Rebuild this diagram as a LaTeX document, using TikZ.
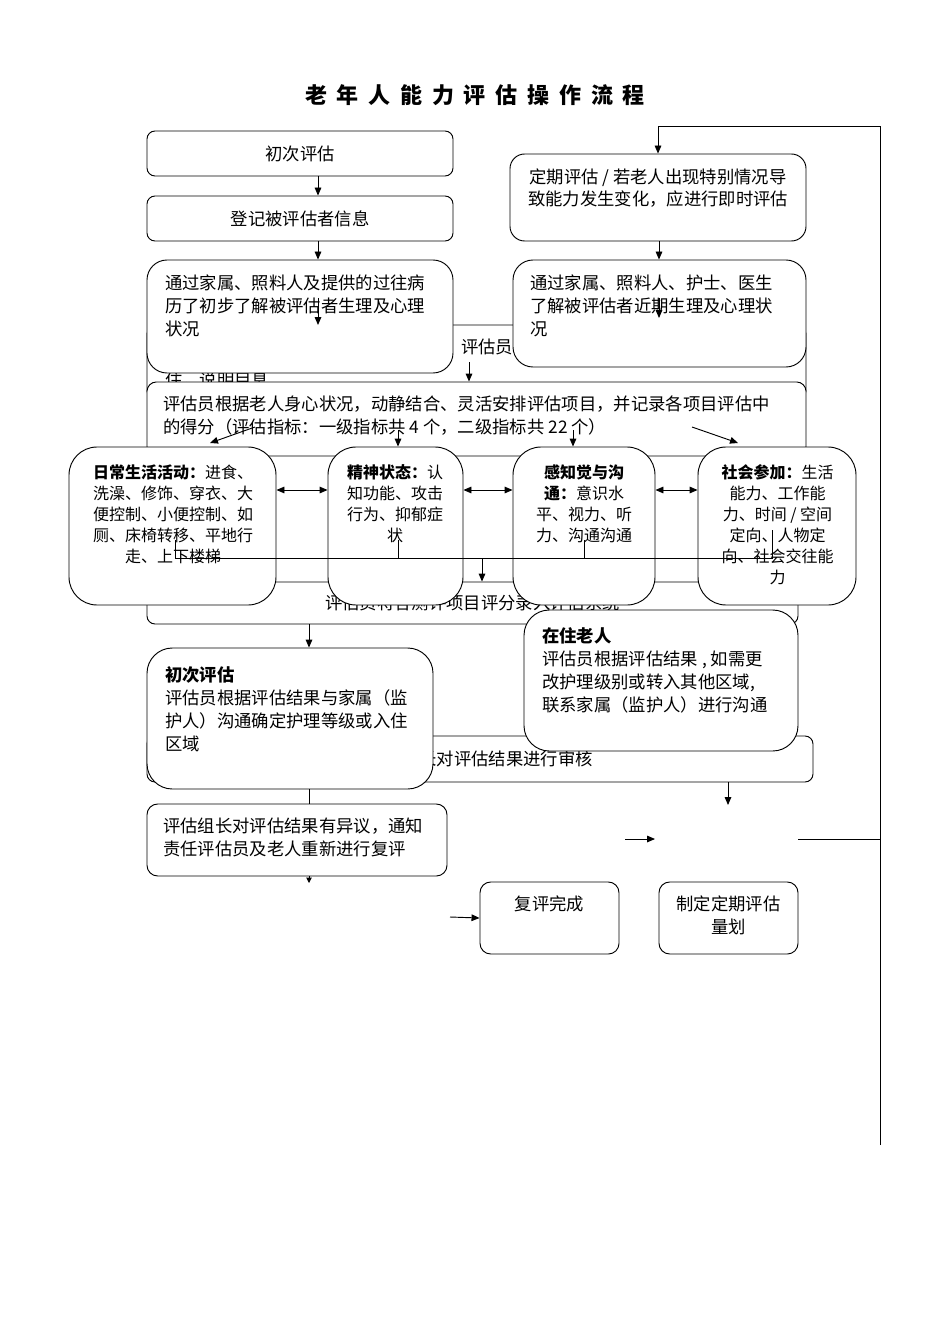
\documentclass[tikz,border=0pt]{standalone}
\usepackage{fontspec}
\setmainfont{Noto Sans CJK SC}
\usetikzlibrary{arrows.meta}
\tikzset{
  box/.style={draw, line width=0.7pt, fill=white, rounded corners=#1, inner sep=0pt},
  box/.default=6pt,
  txt/.style={inner sep=0pt, font=\fontsize{13pt}{17.25pt}\selectfont},
  small/.style={inner sep=0pt, align=center, font=\fontsize{12pt}{15.75pt}\selectfont},
  line/.style={line width=0.7pt},
  arr/.style={line width=0.7pt, -{Triangle[length=6pt,width=5pt]}},
  darr/.style={line width=0.7pt, {Triangle[length=6pt,width=5pt]}-{Triangle[length=6pt,width=5pt]}}
}
\begin{document}
\begin{tikzpicture}[x=0.75pt,y=-0.75pt]
\useasboundingbox (0,0) rectangle (950,1344);
\node[inner sep=0pt, font=\bfseries\fontsize{16.5pt}{20pt}\selectfont] (title) at (475,95)
{\makebox[255pt][s]{老\hfil 年\hfil 人\hfil 能\hfil 力\hfil 评\hfil 估\hfil 操\hfil 作\hfil 流\hfil 程}};
\coordinate (x318) at (318,0);
\coordinate (x659) at (659,0);
\coordinate (x309) at (309,0);
\coordinate (y490) at (0,490);
% top part
\node[box, txt, minimum width=229.5pt, minimum height=33.75pt] (A) at (300,153.5) {初次评估};
\node[box, txt, minimum width=229.5pt, minimum height=33.75pt] (B) at (300,218.5) {登记被评估者信息};
\node[box=11pt, minimum width=222pt, minimum height=65.25pt] (D) at (658,197.5) {};
\node[txt, align=center, anchor=north, font=\fontsize{13pt}{16.5pt}\selectfont] (Dt) at (658,169)
{定期评估 / 若老人出现特别情况导\\致能力发生变化，应进行即时评估};
\coordinate (loopB) at (880,1145);
\coordinate (loopT) at (880,126);
\draw[arr] (loopB) -- (loopT) -| (D.north);
\node[box=7pt, minimum width=494.25pt, minimum height=56.25pt] (F) at (476.5,362.5) {};
\node[txt] (Ft) at (487,347) {评估员};
\node[txt, anchor=west] (Ft2) at (165,380) {住，说明目息};
\node[box=15pt, minimum width=229.5pt, minimum height=84.75pt] (C) at (300,316.5) {};
\node[txt, align=left, anchor=north west] (Ct) at (165,275)
{通过家属、照料人及提供的过往病\\历了初步了解被评估者生理及心理\\状况};
\node[box=15pt, minimum width=219.75pt, minimum height=80.25pt] (E) at (659.5,313.5) {};
\node[txt, align=left, anchor=north west] (Et) at (530,275)
{通过家属、照料人、护士、医生\\了解被评估者近期生理及心理状\\况};
\draw[arr] (A.south -| x318) -- (B.north -| x318);
\draw[arr] (B.south -| x318) -- (C.north -| x318);
\draw[arr] (D.south -| x659) -- (E.north -| x659);
\coordinate (ci1) at (318,298);
\coordinate (ci2) at (318,325);
\coordinate (ei1) at (659,298);
\coordinate (ei2) at (659,318);
\draw[arr] (ci1) -- (ci2);
\draw[arr] (ei1) -- (ei2);
\node[box=7pt, minimum width=494.25pt, minimum height=55.5pt] (G) at (476.5,419) {};
\node[txt, align=left, anchor=north west] (Gt) at (163,396)
{评估员根据老人身心状况，动静结合、灵活安排评估项目，并记录各项目评估中\\的得分（评估指标：一级指标共 4 个，二级指标共 22 个）};
\coordinate (fg) at (469,362);
\draw[arr] (fg) -- (G.north -| fg);
% four items
\node[box, txt, minimum width=488.25pt, minimum height=31.5pt] (H) at (472.5,603) {评估员将各测评项目评分录入评估系统};
\node[box=21pt, minimum width=155.25pt, minimum height=118.5pt] (b1) at (172.5,526) {};
\node[box=21pt, minimum width=101.25pt, minimum height=118.5pt] (b2) at (395.5,526) {};
\node[box=21pt, minimum width=106.5pt, minimum height=118.5pt] (b3) at (584,526) {};
\node[box=21pt, minimum width=118.5pt, minimum height=118.5pt] (b4) at (777,526) {};
\node[small, anchor=north] (b1t) at (173,464.5)
{\textbf{日常生活活动：}进食、\\洗澡、修饰、穿衣、大\\便控制、小便控制、如\\厕、床椅转移、平地行\\走、上下楼梯};
\node[small, anchor=north] (b2t) at (395,464.5)
{\textbf{精神状态：}认\\知功能、攻击\\行为、抑郁症\\状};
\node[small, anchor=north] (b3t) at (584,464.5)
{\textbf{感知觉与沟}\\\textbf{通：}意识水\\平、视力、听\\力、沟通沟通};
\node[small, anchor=north] (b4t) at (777.5,464.5)
{\textbf{社会参加：}生活\\能力、工作能\\力、时间 / 空间\\定向、人物定\\向、社会交往能\\力};
\draw[darr] (b1.east |- y490) -- (b2.west |- y490);
\draw[darr] (b2.east |- y490) -- (b3.west |- y490);
\draw[darr] (b3.east |- y490) -- (b4.west |- y490);
\coordinate (d1) at (255,427);
\coordinate (d1e) at (210,443);
\coordinate (g2) at (398,430);
\coordinate (g3) at (573,430);
\coordinate (d4) at (692,427);
\coordinate (d4e) at (738,443);
\draw[arr] (d1) -- (d1e);
\draw[arr] (g2) -- (b2.north -| g2);
\draw[arr] (g3) -- (b3.north -| g3);
\draw[arr] (d4) -- (d4e);
\coordinate (v1) at (175,540);
\coordinate (v2) at (398,540);
\coordinate (v3) at (584,540);
\coordinate (v4) at (772,530);
\coordinate (hl) at (0,558);
\coordinate (x482) at (482,0);
\draw[line] (v1) -- (v1 |- hl) -- (v4 |- hl) -- (v4);
\draw[line] (v2) -- (v2 |- hl);
\draw[line] (v3) -- (v3 |- hl);
\draw[arr] (hl -| x482) -- (H.north -| x482);
% results
\node[box, txt, minimum width=499.5pt, minimum height=34.5pt] (K) at (480,759) {评估组长对评估结果进行审核};
\node[box=19pt, minimum width=214.5pt, minimum height=105.75pt] (I) at (290,718.5) {};
\node[txt, align=left, anchor=north west] (It) at (165,666)
{\textbf{初次评估}\\评估员根据评估结果与家属（监\\护人）沟通确定护理等级或入住\\区域};
\node[box=19pt, minimum width=205.5pt, minimum height=105.75pt] (J) at (661,680.5) {};
\node[txt, align=left, anchor=north west] (Jt) at (542,627)
{\textbf{在住老人}\\评估员根据评估结果 , 如需更\\改护理级别或转入其他区域,\\联系家属（监护人）进行沟通};
\draw[arr] (H.south -| x309) -- (I.north -| x309);
\node[box=8pt, minimum width=225pt, minimum height=54pt] (L) at (297,840) {};
\node[txt, align=left, anchor=north west] (Lt) at (163,818)
{评估组长对评估结果有异议，通知\\责任评估员及老人重新进行复评};
\draw[line] (I.south -| x309) -- (L.north -| x309);
\coordinate (lt) at (309,883);
\draw[line, -{Triangle[length=4pt,width=4pt]}] (L.south -| x309) -- (lt);
\coordinate (ka) at (728,805);
\draw[arr] (K.south -| ka) -- (ka);
\coordinate (fa1) at (625,839);
\coordinate (fa2) at (655,839);
\draw[arr] (fa1) -- (fa2);
\coordinate (rl) at (798,839);
\draw[line] (rl) -- (rl -| loopB);
\node[box=8pt, minimum width=104.25pt, minimum height=54pt] (M) at (549.5,918) {};
\node[txt, anchor=north] (Mt) at (549.5,896) {复评完成};
\node[box=8pt, minimum width=104.25pt, minimum height=54pt] (N) at (728.5,918) {};
\node[txt, align=center, anchor=north] (Nt) at (728.5,896) {制定定期评估\\量划};
\coordinate (ma) at (450,917);
\draw[arr] (ma) -- (M.west);
\end{tikzpicture}
\end{document}
